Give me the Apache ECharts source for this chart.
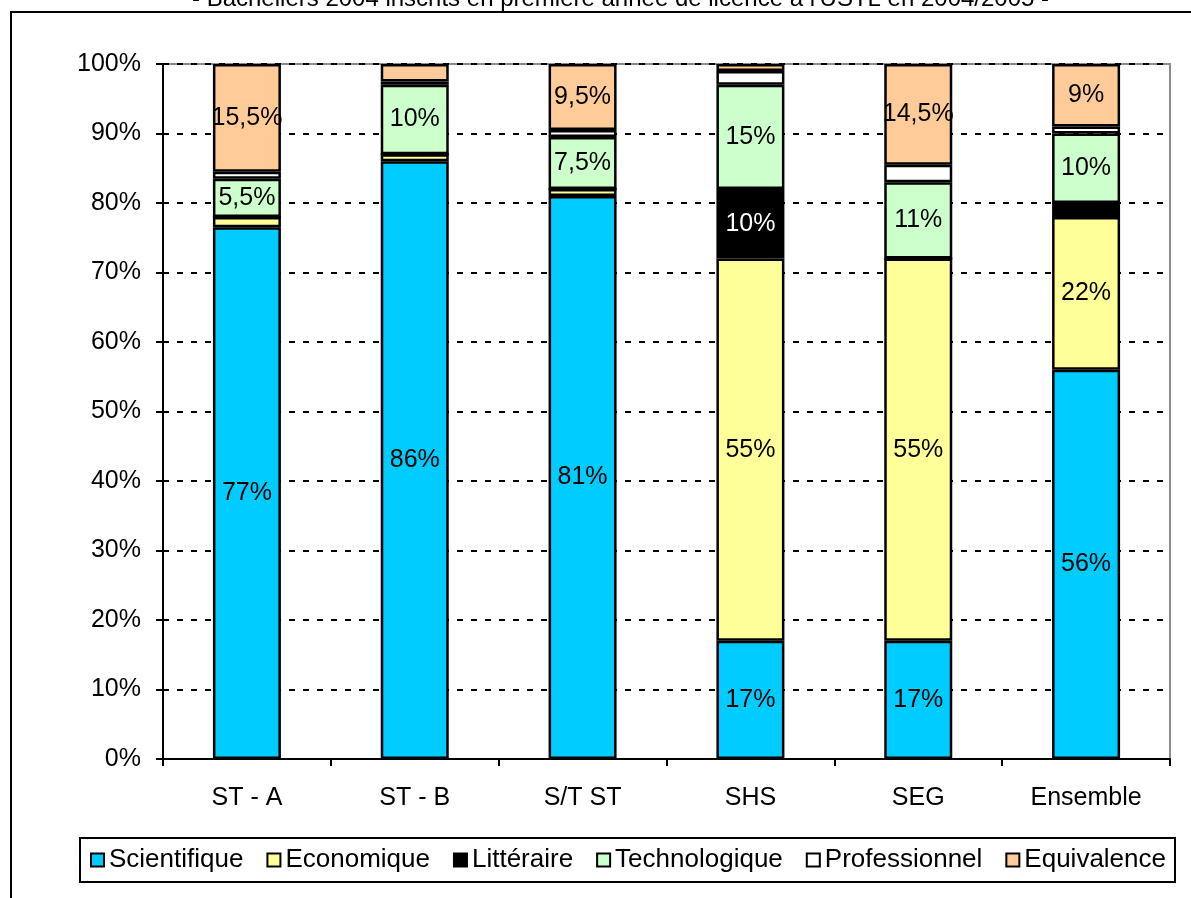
<!DOCTYPE html>
<html>
<head>
<meta charset="utf-8">
<script src="https://cdn.jsdelivr.net/npm/echarts@6/dist/echarts.min.js"></script>
<style>html,body{margin:0;padding:0;background:#fff;}#c{width:1191px;height:898px;}</style>
</head>
<body>
<div id="c"></div>
<script>
const categories = ['ST - A', 'ST - B', 'S/T ST', 'SHS', 'SEG', 'Ensemble'];
const yTicks = [0, 10, 20, 30, 40, 50, 60, 70, 80, 90, 100];
const seriesNames = ['Scientifique', 'Economique', 'Littéraire', 'Technologique', 'Professionnel', 'Equivalence'];
const scientifique = [76.5, 86, 81, 17, 17, 56];
const economique = [1.5, 1, 1, 55, 55, 22];
const litteraire = [0, 0, 0, 10, 0, 2];
const technologique = [5.5, 10, 7.5, 15, 11, 10];
const professionnel = [1, 0.5, 1, 2, 2.5, 1];
const equivalence = [15.5, 2.5, 9.5, 1, 14.5, 9];
const labScientifique = ['77%', '86%', '81%', '17%', '17%', '56%'];
const labEconomique = ['', '', '', '55%', '55%', '22%'];
const labLitteraire = ['', '', '', '10%', '', ''];
const labTechnologique = ['5,5%', '10%', '7,5%', '15%', '11%', '10%'];
const labProfessionnel = ['', '', '', '', '', ''];
const labEquivalence = ['15,5%', '', '9,5%', '', '14,5%', '9%'];
const title = "- Bacheliers 2004 inscrits en première année de licence à l'USTL en 2004/2005 -";

const values = [scientifique, economique, litteraire, technologique, professionnel, equivalence];
const labels = [labScientifique, labEconomique, labLitteraire, labTechnologique, labProfessionnel, labEquivalence];
const colors = ['#00CCFF', '#FFFF99', '#000000', '#CCFFCC', '#FFFFFF', '#FFCC99'];
const labelColors = ['#000', '#000', '#fff', '#000', '#000', '#000'];
const FONT = '"Liberation Sans", Arial, sans-serif';

const chart = echarts.init(document.getElementById('c'));
const series = seriesNames.map((name, i) => ({
  name: name,
  type: 'bar',
  stack: 'total',
  barWidth: 68,
  data: values[i],
  itemStyle: { color: colors[i], borderColor: '#000', borderWidth: 2.5 },
  label: {
    show: true,
    position: 'inside',
    fontFamily: FONT,
    fontSize: 25,
    color: labelColors[i],
    formatter: p => labels[i][p.dataIndex]
  },
  emphasis: { disabled: true }
}));

chart.setOption({
  animation: false,
  backgroundColor: '#fff',
  textStyle: { fontFamily: FONT },
  title: {
    text: title,
    left: 192,
    top: -13,
    padding: 0,
    textStyle: { fontFamily: FONT, fontSize: 24, fontWeight: 'normal', color: '#000' }
  },
  graphic: [{
    type: 'rect',
    shape: { x: 11, y: 12, width: 1400, height: 1000 },
    style: { fill: 'none', stroke: '#000', lineWidth: 2 },
    z: -10, silent: true
  }],
  grid: {
    left: 163, right: 21, top: 64, bottom: 139,
    show: true, borderColor: '#8c8c8c', borderWidth: 2, backgroundColor: 'transparent'
  },
  legend: {
    data: seriesNames,
    left: 80,
    top: 838,
    width: 1110,
    padding: [9, 9, 9, 10],
    itemWidth: 13,
    itemHeight: 13,
    itemGap: 23,
    icon: 'rect',
    borderColor: '#000',
    borderWidth: 2,
    selectedMode: false,
    textStyle: { fontFamily: FONT, fontSize: 26, color: '#000' },
    itemStyle: { borderColor: '#000', borderWidth: 2 }
  },
  xAxis: {
    type: 'category',
    data: categories,
    axisLine: { lineStyle: { color: '#000', width: 2 } },
    axisTick: { show: true, length: 7, lineStyle: { color: '#000', width: 2 } },
    axisLabel: { fontFamily: FONT, fontSize: 25, color: '#000', margin: 27 },
    splitLine: { show: false }
  },
  yAxis: {
    type: 'value',
    min: yTicks[0],
    max: yTicks[yTicks.length - 1],
    interval: yTicks[1] - yTicks[0],
    axisLine: { show: true, lineStyle: { color: '#000', width: 2 } },
    axisTick: { show: true, length: 7, lineStyle: { color: '#000', width: 2 } },
    axisLabel: { fontFamily: FONT, fontSize: 25, color: '#000', margin: 22, formatter: v => v + '%' },
    splitLine: { show: true, lineStyle: { color: '#000', width: 2, type: [6, 8] } }
  },
  series: series
});
</script>
</body>
</html>
